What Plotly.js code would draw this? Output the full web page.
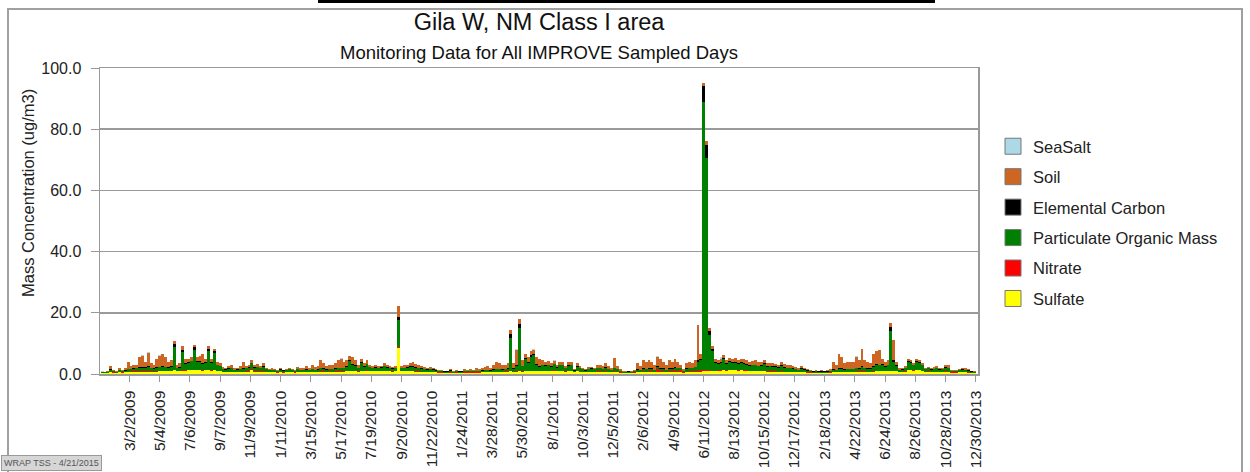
<!DOCTYPE html>
<html>
<head>
<meta charset="utf-8">
<script src="https://cdn.plot.ly/plotly-3.0.1.min.js"></script>
<style>
html,body{margin:0;padding:0;background:#ffffff;}
#chart{width:1250px;height:472px;}
</style>
</head>
<body>
<div id="chart"></div>
<script>
// IMPROVE samples shown as one bar per 6 days, first bar centred on 4 Jan 2009
const firstSample = [2009, 0, 4];
const sampleStepDays = 6;

const tickLabels = ['3/2/2009','5/4/2009','7/6/2009','9/7/2009','11/9/2009','1/11/2010','3/15/2010',
  '5/17/2010','7/19/2010','9/20/2010','11/22/2010','1/24/2011','3/28/2011','5/30/2011','8/1/2011',
  '10/3/2011','12/5/2011','2/6/2012','4/9/2012','6/11/2012','8/13/2012','10/15/2012','12/17/2012',
  '2/18/2013','4/22/2013','6/24/2013','8/26/2013','10/28/2013','12/30/2013'];

const sulfate = [
0.3,0.25,0.35,0.5,0.4,0.35,0.5,0.4,0.5,0.6,
0.7,0.8,0.8,0.8,0.7,0.8,0.8,0.8,0.7,0.8,
0.9,1.0,0.9,0.9,1.0,1.2,0.9,1.0,1.1,1.1,
1.2,1.2,1.3,1.2,1.2,1.1,1.2,1.3,1.1,1.2,
1.0,0.9,0.7,0.6,0.7,0.7,0.5,0.6,0.6,0.6,
0.7,0.8,1.2,0.8,0.8,0.7,0.8,0.6,0.5,0.5,
0.5,0.4,0.5,0.4,0.5,0.6,0.5,0.4,0.6,0.5,
0.5,0.6,0.5,0.6,0.5,0.6,0.7,0.7,0.6,0.7,
0.7,0.8,0.8,0.8,0.8,0.9,1.0,1.0,1.0,0.8,
1.0,1.0,1.1,1.0,0.9,1.0,0.9,1.0,1.0,1.0,
0.9,0.8,0.9,8.5,0.9,0.9,0.9,0.9,0.9,0.8,
0.8,0.7,0.6,0.6,0.6,0.6,0.5,0.4,0.4,0.3,
0.3,0.4,0.3,0.4,0.3,0.3,0.4,0.4,0.4,0.4,
0.4,0.4,0.5,0.5,0.5,0.5,0.6,0.6,0.6,0.6,
0.6,0.7,0.9,0.7,0.8,1.0,0.8,0.9,0.9,1.0,
1.0,1.0,0.9,1.0,1.0,1.0,1.0,1.1,0.9,1.0,
1.0,0.8,1.0,1.0,0.5,0.9,0.8,0.7,0.5,0.7,
0.7,0.6,0.7,0.7,0.6,0.7,0.6,0.5,0.6,0.6,
0.4,0.3,0.3,0.3,0.3,0.4,0.5,0.5,0.6,0.6,
0.6,0.6,0.5,0.6,0.6,0.6,0.5,0.6,0.6,0.7,
0.7,0.5,0.4,0.6,0.7,0.7,0.7,0.8,0.8,1.0,
1.0,1.0,1.0,1.0,1.1,1.1,1.2,1.1,1.2,1.2,
1.2,1.1,1.2,1.1,1.1,1.0,1.0,1.0,0.9,0.9,
0.9,0.8,0.8,0.8,0.8,0.7,0.8,0.7,0.7,0.6,
0.6,0.6,0.5,0.6,0.5,0.4,0.4,0.3,0.4,0.3,
0.3,0.3,0.3,0.4,0.5,0.5,0.6,0.6,0.5,0.6,
0.6,0.6,0.7,0.7,0.8,0.7,0.7,0.7,0.8,0.9,
0.9,0.9,0.9,0.9,1.0,0.9,0.9,0.6,0.6,0.8,
1.2,1.2,1.1,1.2,1.2,1.0,0.7,0.8,0.7,0.7,
0.7,0.6,0.6,0.8,0.7,0.4,0.4,0.4,0.5,0.6,
0.5,0.4,0.3,0.3];

const nitrate = [
0.1,0.1,0.1,0.2,0.1,0.1,0.2,0.1,0.1,0.2,
0.2,0.1,0.2,0.2,0.2,0.2,0.2,0.2,0.1,0.2,
0.1,0.1,0.1,0.1,0.1,0.1,0.1,0.1,0.1,0.1,
0.1,0.1,0.1,0.1,0.1,0.1,0.1,0.1,0.1,0.1,
0.1,0.1,0.1,0.1,0.1,0.1,0.1,0.1,0.1,0.2,
0.2,0.2,0.3,0.2,0.2,0.2,0.2,0.1,0.1,0.1,
0.1,0.1,0.2,0.1,0.1,0.2,0.1,0.1,0.2,0.1,
0.2,0.2,0.1,0.2,0.1,0.2,0.2,0.2,0.1,0.2,
0.1,0.1,0.1,0.1,0.1,0.1,0.1,0.1,0.1,0.1,
0.1,0.1,0.1,0.1,0.1,0.1,0.1,0.1,0.1,0.1,
0.1,0.1,0.1,0.3,0.1,0.1,0.1,0.2,0.2,0.2,
0.2,0.1,0.1,0.1,0.1,0.1,0.1,0.1,0.1,0.1,
0.1,0.1,0.05,0.1,0.1,0.05,0.1,0.1,0.1,0.1,
0.1,0.1,0.1,0.2,0.1,0.1,0.2,0.2,0.2,0.1,
0.5,0.2,0.1,0.1,0.1,0.1,0.1,0.1,0.1,0.1,
0.1,0.1,0.1,0.1,0.1,0.1,0.1,0.1,0.1,0.1,
0.1,0.1,0.1,0.1,0.1,0.1,0.1,0.1,0.1,0.1,
0.1,0.1,0.2,0.2,0.1,0.2,0.1,0.1,0.3,0.1,
0.1,0.05,0.05,0.05,0.05,0.1,0.2,0.1,0.3,0.2,
0.3,0.3,0.2,0.9,0.3,0.3,0.2,0.4,0.3,0.5,
0.4,0.9,0.1,0.2,0.2,0.2,0.2,0.2,0.5,0.2,
0.2,0.2,0.1,0.1,0.1,0.1,0.1,0.1,0.1,0.1,
0.1,0.1,0.1,0.1,0.1,0.1,0.1,0.1,0.1,0.1,
0.1,0.1,0.1,0.1,0.1,0.1,0.2,0.1,0.1,0.1,
0.2,0.1,0.1,0.2,0.1,0.1,0.1,0.05,0.1,0.05,
0.1,0.05,0.1,0.1,0.2,0.2,0.2,0.2,0.2,0.2,
0.2,0.2,0.2,0.2,0.2,0.2,0.1,0.1,0.1,0.1,
0.1,0.1,0.1,0.1,0.1,0.1,0.1,0.1,0.1,0.1,
0.1,0.1,0.1,0.1,0.1,0.1,0.1,0.1,0.1,0.1,
0.1,0.1,0.1,0.2,0.1,0.1,0.1,0.1,0.1,0.1,
0.1,0.1,0.05,0.05];

const organicMass = [
0.2,0.2,0.3,0.7,0.4,0.3,0.5,0.4,0.5,0.7,
0.7,0.8,0.8,1.0,1.1,1.0,1.2,0.9,0.8,1.0,
1.2,1.3,1.2,1.0,1.2,7.6,0.9,1.0,6.1,2.0,
2.4,2.8,6.6,2.5,2.6,2.0,2.3,6.2,2.5,5.6,
1.8,1.5,0.8,0.7,0.9,1.0,0.6,0.7,0.8,0.9,
0.9,1.1,2.0,1.1,1.2,0.9,1.3,0.8,0.6,0.7,
0.6,0.5,0.7,0.6,0.6,0.7,0.6,0.5,0.7,0.6,
0.5,0.6,0.6,0.7,0.7,0.6,0.9,0.8,0.7,0.7,
0.7,0.8,0.9,1.0,1.0,1.3,3.2,2.0,1.5,1.0,
2.4,1.3,2.0,1.1,0.9,1.0,0.9,1.0,1.4,1.0,
0.9,0.8,0.9,9.0,0.9,1.0,1.1,1.2,1.3,1.1,
1.0,0.9,0.8,0.7,0.9,0.7,0.5,0.4,0.5,0.4,
0.4,0.6,0.3,0.4,0.4,0.4,0.5,0.5,0.5,0.4,
0.5,0.5,0.5,0.5,0.6,0.5,0.6,0.7,0.7,0.7,
0.5,0.7,10.8,0.8,1.8,13.8,1.6,3.8,2.5,4.5,
5.0,2.0,1.4,1.8,1.6,1.8,1.3,2.0,1.1,1.7,
1.8,0.9,1.6,1.7,0.5,1.4,0.9,0.7,0.5,0.8,
0.9,0.8,0.9,1.0,0.9,1.2,0.9,0.7,0.9,0.8,
0.5,0.3,0.3,0.4,0.3,0.4,0.6,0.6,0.7,0.7,
0.8,0.7,0.6,0.8,0.8,0.7,0.6,0.7,0.7,0.8,
0.8,0.5,0.4,0.8,1.0,0.9,1.3,3.0,3.2,87.8,
69.5,11.5,6.4,2.6,2.1,2.5,3.5,2.1,2.6,2.4,
2.4,2.1,2.2,2.1,1.9,1.6,1.7,1.8,1.5,1.6,
2.2,1.5,1.6,1.5,1.4,1.2,1.6,1.3,1.1,1.1,
0.9,0.9,0.7,0.9,0.8,0.6,0.4,0.4,0.5,0.4,
0.4,0.4,0.4,0.5,0.6,0.5,0.9,0.8,0.6,0.7,
0.7,0.7,0.9,0.8,1.2,0.9,0.9,0.8,1.3,2.0,
1.8,2.0,1.4,1.8,12.8,3.0,1.6,0.6,0.7,0.9,
2.6,2.3,1.6,2.6,2.4,1.7,0.7,0.9,0.6,0.8,
1.0,0.7,0.8,1.1,1.1,0.5,0.5,0.5,0.6,0.7,
0.7,0.6,0.4,0.3];

const elementalCarbon = [
0.05,0.05,0.05,0.2,0.1,0.05,0.1,0.1,0.1,0.2,
0.1,0.1,0.2,0.2,0.2,0.2,0.3,0.2,0.2,0.2,
0.2,0.2,0.2,0.2,0.2,0.8,0.1,0.2,0.7,0.3,
0.3,0.3,0.7,0.3,0.3,0.3,0.3,0.6,0.3,0.6,
0.2,0.2,0.1,0.1,0.1,0.2,0.1,0.1,0.1,0.2,
0.1,0.2,0.2,0.2,0.2,0.1,0.2,0.1,0.1,0.1,
0.1,0.1,0.1,0.1,0.1,0.1,0.1,0.1,0.1,0.1,
0.1,0.1,0.1,0.1,0.1,0.1,0.2,0.2,0.1,0.1,
0.1,0.2,0.2,0.2,0.2,0.2,0.4,0.3,0.2,0.1,
0.3,0.2,0.2,0.1,0.1,0.1,0.1,0.1,0.2,0.1,
0.1,0.1,0.1,0.8,0.1,0.1,0.1,0.2,0.2,0.1,
0.1,0.1,0.1,0.1,0.1,0.1,0.1,0.1,0.1,0.1,
0.1,0.1,0.1,0.1,0.1,0.1,0.1,0.1,0.1,0.1,
0.1,0.1,0.1,0.1,0.1,0.1,0.1,0.2,0.2,0.1,
0.1,0.2,1.2,0.2,0.3,1.4,0.2,0.4,0.3,0.5,
0.5,0.3,0.2,0.2,0.2,0.2,0.1,0.2,0.1,0.2,
0.2,0.1,0.2,0.2,0.1,0.2,0.1,0.1,0.1,0.1,
0.1,0.1,0.1,0.2,0.1,0.2,0.1,0.1,0.2,0.1,
0.1,0.1,0.1,0.1,0.1,0.1,0.2,0.1,0.2,0.2,
0.2,0.2,0.1,0.2,0.2,0.2,0.1,0.2,0.2,0.2,
0.2,0.1,0.1,0.2,0.2,0.2,0.2,0.5,0.4,5.0,
4.3,1.3,0.6,0.3,0.3,0.3,0.4,0.2,0.3,0.3,
0.3,0.2,0.3,0.3,0.2,0.2,0.2,0.2,0.2,0.2,
0.3,0.2,0.2,0.2,0.2,0.2,0.2,0.2,0.2,0.1,
0.1,0.1,0.1,0.1,0.1,0.1,0.1,0.1,0.1,0.1,
0.1,0.1,0.1,0.1,0.2,0.1,0.3,0.2,0.2,0.2,
0.2,0.2,0.2,0.2,0.3,0.2,0.2,0.2,0.3,0.4,
0.3,0.3,0.2,0.2,1.6,0.5,0.2,0.1,0.1,0.1,
0.3,0.3,0.2,0.3,0.3,0.2,0.1,0.1,0.1,0.1,
0.1,0.1,0.1,0.2,0.2,0.1,0.1,0.1,0.1,0.1,
0.1,0.1,0.1,0.1];

const soil = [
0.15,0.1,0.2,0.9,0.2,0.2,0.7,0.3,0.8,2.3,
0.8,1.0,1.0,3.3,3.8,1.8,4.5,1.4,1.2,2.8,
3.6,3.9,3.1,1.8,2.0,1.1,1.0,1.2,1.0,1.5,
1.0,1.1,0.8,1.4,1.8,3.0,1.1,0.8,1.0,0.8,
0.9,0.8,0.5,0.5,0.7,0.8,0.5,0.5,0.9,2.1,
0.6,0.7,0.8,0.7,0.8,0.6,1.0,0.4,0.2,0.4,
0.2,0.1,0.3,0.2,0.3,0.4,0.2,0.2,0.6,0.5,
0.7,1.0,0.5,1.4,0.8,1.0,2.5,1.6,1.0,1.3,
1.4,1.6,2.5,2.9,1.9,2.0,1.3,2.1,1.7,1.0,
1.2,0.9,1.1,0.7,0.5,0.6,0.5,0.5,0.8,0.6,
0.5,0.5,0.6,3.5,0.5,0.7,0.8,1.0,1.4,1.0,
0.9,0.7,0.6,0.5,0.7,0.5,0.3,0.2,0.3,0.15,
0.15,0.3,0.15,0.2,0.15,0.15,0.4,0.2,0.5,0.2,
0.7,0.4,0.8,1.0,1.2,0.8,1.5,2.3,1.8,1.3,
1.3,1.7,1.4,1.7,5.0,1.6,1.8,1.3,1.7,1.4,
1.4,2.1,2.4,1.4,1.1,1.1,1.0,1.0,0.8,1.0,
0.9,0.6,0.9,1.0,0.3,0.9,0.6,0.4,0.3,0.7,
0.6,0.4,0.9,0.9,0.8,1.2,0.9,0.6,3.2,0.9,
0.4,0.15,0.15,0.15,0.15,0.2,2.2,1.2,2.7,2.1,
2.7,2.2,1.6,3.2,3.1,2.2,1.6,2.7,2.2,2.8,
1.9,1.0,0.5,1.7,1.9,1.5,2.1,11.5,1.6,1.0,
1.0,1.0,0.9,1.0,1.0,1.0,1.1,1.0,1.0,1.0,
1.2,1.1,1.2,1.2,1.2,1.1,1.2,1.4,1.1,1.2,
1.1,0.9,1.0,0.9,0.9,0.7,1.2,1.1,0.8,0.9,
0.7,0.6,0.5,0.7,0.6,0.3,0.2,0.15,0.2,0.2,
0.3,0.15,0.4,0.4,2.5,1.7,4.5,3.7,2.0,2.3,
2.3,2.1,3.7,2.6,5.6,2.5,2.1,1.7,4.0,4.0,
4.7,1.7,1.4,1.5,1.1,6.5,1.2,0.5,0.5,0.6,
0.6,0.6,0.5,0.6,0.6,0.5,0.4,0.5,0.4,0.5,
0.6,0.4,0.5,0.7,0.7,0.3,0.2,0.3,0.3,0.5,
0.5,0.3,0.15,0.15];

const seaSalt = [
0.02,0.02,0.03,0.05,0.02,0.02,0.04,0.03,0.03,0.06,
0.04,0.05,0.04,0.06,0.05,0.04,0.3,0.04,0.03,0.05,
0.05,0.06,0.05,0.04,0.04,0.03,0.03,0.03,0.03,0.04,
0.03,0.03,0.03,0.03,0.04,0.04,0.03,0.03,0.03,0.03,
0.03,0.03,0.02,0.02,0.02,0.03,0.02,0.02,0.03,0.05,
0.03,0.03,0.04,0.03,0.03,0.02,0.03,0.02,0.02,0.02,
0.02,0.02,0.02,0.02,0.02,0.03,0.02,0.02,0.03,0.02,
0.03,0.04,0.02,0.05,0.03,0.04,0.06,0.05,0.04,0.04,
0.05,0.05,0.06,0.07,0.05,0.05,0.04,0.05,0.04,0.03,
0.03,0.03,0.03,0.02,0.02,0.02,0.02,0.02,0.03,0.02,
0.02,0.02,0.02,0.05,0.02,0.03,0.03,0.03,0.04,0.03,
0.03,0.03,0.02,0.02,0.03,0.02,0.02,0.02,0.02,0.02,
0.02,0.02,0.02,0.02,0.02,0.02,0.02,0.02,0.03,0.02,
0.03,0.02,0.03,0.04,0.04,0.03,0.05,0.06,0.05,0.04,
0.04,0.05,0.05,0.05,0.08,0.05,0.05,0.04,0.05,0.04,
0.04,0.05,0.05,0.04,0.03,0.03,0.03,0.03,0.03,0.03,
0.03,0.02,0.03,0.03,0.02,0.03,0.02,0.02,0.02,0.02,
0.02,0.02,0.03,0.03,0.03,0.03,0.03,0.02,0.06,0.03,
0.02,0.02,0.02,0.02,0.02,0.02,0.05,0.04,0.06,0.05,
0.06,0.05,0.04,0.07,0.06,0.05,0.04,0.06,0.05,0.06,
0.05,0.04,0.02,0.05,0.05,0.04,0.05,0.15,0.05,0.05,
0.05,0.04,0.04,0.04,0.04,0.4,0.05,0.04,0.04,0.04,
0.04,0.04,0.04,0.04,0.04,0.03,0.04,0.04,0.03,0.03,
0.03,0.03,0.03,0.03,0.03,0.02,0.03,0.03,0.02,0.03,
0.02,0.02,0.02,0.02,0.02,0.02,0.02,0.02,0.02,0.02,
0.02,0.02,0.02,0.02,0.05,0.04,0.07,0.06,0.04,0.05,
0.05,0.05,0.06,0.05,0.08,0.05,0.05,0.04,0.06,0.06,
0.06,0.04,0.03,0.04,0.05,0.07,0.03,0.02,0.02,0.02,
0.03,0.03,0.03,0.03,0.03,0.03,0.02,0.02,0.02,0.02,
0.02,0.02,0.02,0.03,0.03,0.02,0.02,0.02,0.02,0.02,
0.02,0.02,0.02,0.02];

function isoOf(d){ return d.toISOString().slice(0,10); }
const sampleDates = sulfate.map(function(_, i){
  const d = new Date(Date.UTC(firstSample[0], firstSample[1], firstSample[2]));
  d.setUTCDate(d.getUTCDate() + i * sampleStepDays);
  return isoOf(d);
});
const tickDates = tickLabels.map(function(s){
  const p = s.split('/');
  return isoOf(new Date(Date.UTC(+p[2], +p[0]-1, +p[1])));
});

// stacking order bottom -> top; legendRank gives the legend order top -> bottom
const series = [
  {name:'Sulfate', y:sulfate, color:'#FFFF00', rank:6},
  {name:'Nitrate', y:nitrate, color:'#FF0000', rank:5},
  {name:'Particulate Organic Mass', y:organicMass, color:'#008000', rank:4},
  {name:'Elemental Carbon', y:elementalCarbon, color:'#000000', rank:3},
  {name:'Soil', y:soil, color:'#CC6622', rank:2},
  {name:'SeaSalt', y:seaSalt, color:'#ADD8E6', rank:1}
];

const traces = series.map(function(s){
  return {type:'bar', name:s.name, x:sampleDates, y:s.y, legendgroup:s.name, legendrank:s.rank,
    marker:{color:s.color, line:{width:0}}, hoverinfo:'x+y+name'};
});

const FONT = '"Liberation Sans", Arial, sans-serif';
const layout = {
  width:1250, height:472,
  margin:{l:100, r:272, t:68, b:98, pad:0},
  paper_bgcolor:'#ffffff', plot_bgcolor:'#ffffff',
  barmode:'stack', bargap:0,
  font:{family:FONT, color:'#222222', size:15},
  title:{text:'Gila W, NM Class I area', font:{family:FONT, size:23.5, color:'#111111'},
    x:0.5, xref:'paper', xanchor:'center', y:1-22/472, yref:'container', yanchor:'middle'},
  xaxis:{type:'date', range:['2008-12-30 12:00','2014-01-03 17:00'],
    tickmode:'array', tickvals:tickDates, ticktext:tickLabels, tickangle:-90,
    ticks:'outside', ticklen:6, tickcolor:'#999999', tickwidth:1,
    tickfont:{family:FONT, size:15.5, color:'#222222'}, ticklabelstandoff:3,
    showgrid:false, zeroline:false, showline:true, linecolor:'#999999', linewidth:1.5, mirror:true,
    fixedrange:true},
  yaxis:{range:[0,100], tickmode:'array', tickvals:[0,20,40,60,80,100], tickformat:'.1f',
    ticks:'outside', ticklen:8, tickcolor:'#999999', tickwidth:1,
    tickfont:{family:FONT, size:16, color:'#222222'}, ticklabelstandoff:6,
    showgrid:true, gridcolor:'#9a9a9a', gridwidth:1.5, zeroline:false,
    showline:true, linecolor:'#999999', linewidth:1.5, mirror:true, fixedrange:true},
  legend:{x:(993-100)/878, xanchor:'left', y:(374-129)/306, yanchor:'top',
    traceorder:'grouped', tracegroupgap:6, bgcolor:'rgba(0,0,0,0)',
    font:{family:FONT, size:16.5, color:'#222222'}},
  annotations:[
    {text:'Monitoring Data for All IMPROVE Sampled Days', xref:'paper', yref:'paper',
      x:0.5, y:(374-53)/306, xanchor:'center', yanchor:'middle', showarrow:false,
      font:{family:FONT, size:18.5, color:'#111111'}},
    {text:'Mass Concentration (ug/m3)', xref:'paper', yref:'paper',
      x:(28-100)/878, y:(374-193)/306, xanchor:'center', yanchor:'middle', textangle:-90,
      showarrow:false, font:{family:FONT, size:16.5, color:'#222222'}},
    {text:'WRAP TSS - 4/21/2015', xref:'paper', yref:'paper',
      x:(1-100)/878, y:(374-471)/306, xanchor:'left', yanchor:'bottom', showarrow:false,
      bgcolor:'#d6d6d6', bordercolor:'#9a9a9a', borderwidth:1, borderpad:2,
      font:{family:FONT, size:9, color:'#555555'}}
  ],
  shapes:[
    {type:'rect', xref:'paper', yref:'paper', x0:(8-100)/878, x1:(1242-100)/878,
      y0:(374-490)/306, y1:(374-9)/306, line:{color:'#a0a0a0', width:2}, fillcolor:'rgba(0,0,0,0)', layer:'below'},
    {type:'rect', xref:'paper', yref:'paper', x0:(318-100)/878, x1:(935-100)/878,
      y0:(374-3)/306, y1:(374+1)/306, line:{width:0}, fillcolor:'#000000', layer:'above'}
  ],
  showlegend:true
};

Plotly.newPlot('chart', traces, layout, {displayModeBar:false, staticPlot:true}).then(function(){
  document.querySelectorAll('.legend .legendpoints path').forEach(function(p){
    p.setAttribute('d','M8,8H-8V-8H8Z');
    p.style.stroke = '#777777';
    p.style.strokeWidth = '1px';
  });
});
</script>
</body>
</html>
